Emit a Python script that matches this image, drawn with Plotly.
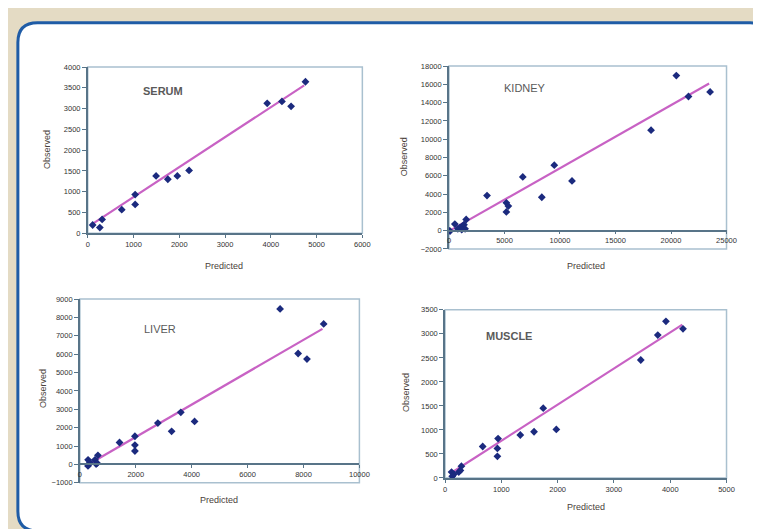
import plotly.graph_objects as go

W, H = 761, 529

# ---------------- data ----------------
serum_pred = [107, 264, 314, 743, 1036, 1036, 1493, 1750, 1957, 2214, 3921, 4243, 4443, 4757]
serum_obs = [197, 134, 331, 567, 929, 693, 1378, 1299, 1378, 1512, 3126, 3173, 3055, 3646]
serum_trend_x = [121, 4729]
serum_trend_y = [236, 3559]

kidney_pred = [0, 100, 530, 800, 1000, 1200, 1350, 1450, 1550, 1150, 3428, 5171, 5171, 5348,
               6649, 8363, 9486, 11082, 18203, 20479, 21572, 23522]
kidney_obs = [0, -50, 716, 200, 350, 500, 650, 200, 1216, 100, 3828, 2039, 3041, 2683,
              5868, 3649, 7156, 5438, 10984, 16959, 14669, 15170]
kidney_trend_x = [0, 23434]
kidney_trend_y = [-60, 16100]

liver_pred = [293, 328, 360, 290, 539, 580, 645, 620, 1418, 1969, 1969, 1969, 2790, 3282,
              3611, 4103, 7163, 7808, 8124, 8722]
liver_obs = [250, 18, 110, -80, 250, 20, 500, 70, 1196, 1536, 1054, 732, 2250, 1804,
             2839, 2339, 8464, 6036, 5732, 7643]
liver_trend_x = [300, 8680]
liver_trend_y = [0, 7375]

muscle_pred = [116, 128, 157, 244, 273, 291, 669, 942, 930, 930, 1337, 1581, 1744, 1977,
               3477, 3779, 3924, 4227]
muscle_obs = [123, 34, 75, 123, 157, 246, 655, 819, 614, 450, 894, 962, 1453, 1010,
              2456, 2975, 3261, 3104]
muscle_trend_x = [116, 4215]
muscle_trend_y = [109, 3193]

titles = ["SERUM", "KIDNEY", "LIVER", "MUSCLE"]
x_label = "Predicted"
y_label = "Observed"

# ---------------- styling ----------------
MARKER = "#1b2a7e"
TREND = "#c862c4"
AXIS = "#587488"
BORDER = "#a9c0cf"
TICK_FONT = dict(family="Liberation Sans, Arial, sans-serif", size=7.5, color="#333333")
TITLE_FONT_COLOR = "#4a3f3a"


def fx(px):
    return px / W


def fy(py):
    return 1 - py / H


panels = [
    dict(name="SERUM", xs=serum_pred, ys=serum_obs, tx=serum_trend_x, ty=serum_trend_y,
         xdom=(79, 358), ydom=(225, 56), xr=(0, 6000), xd=1000, yr=(0, 4000), yd=500,
         title=titles[0], tpos=(155, 80), tbold=True,
         xlab=(217, 258), ylab=(37, 140)),
    dict(name="KIDNEY", xs=kidney_pred, ys=kidney_obs, tx=kidney_trend_x, ty=kidney_trend_y,
         xdom=(446, 728), ydom=(241, 55), xr=(0, 25000), xd=5000, yr=(-2000, 18000), yd=2000,
         title=titles[1], tpos=(523, 77), tbold=False,
         xlab=(585, 258), ylab=(401, 147)),
    dict(name="LIVER", xs=liver_pred, ys=liver_obs, tx=liver_trend_x, ty=liver_trend_y,
         xdom=(71, 355), ydom=(479, 292), xr=(0, 10000), xd=2000, yr=(-1000, 9000), yd=1000,
         title=titles[2], tpos=(152, 322), tbold=False,
         xlab=(212, 496), ylab=(34, 383)),
    dict(name="MUSCLE", xs=muscle_pred, ys=muscle_obs, tx=muscle_trend_x, ty=muscle_trend_y,
         xdom=(442, 728), ydom=(474, 303), xr=(0, 5000), xd=1000, yr=(0, 3500), yd=500,
         title=titles[3], tpos=(507, 330), tbold=True,
         xlab=(585, 504), ylab=(403, 387)),
]

fig = go.Figure()
layout = dict(
    width=W, height=H, autosize=False,
    margin=dict(l=0, r=0, t=0, b=0),
    paper_bgcolor="#e4dbc4",
    plot_bgcolor="rgba(0,0,0,0)",
    showlegend=False,
)
shapes = []
annotations = []

# white rounded frame with blue border
L, T, R, B, r = 8, 11, 772, 528, 20
rx, ry = r / W, r / H
x0, x1, y0, y1 = fx(L), fx(R), fy(B), fy(T)
path = (f"M {x0+rx},{y1} L {x1-rx},{y1} Q {x1},{y1} {x1},{y1-ry} "
        f"L {x1},{y0+ry} Q {x1},{y0} {x1-rx},{y0} L {x0+rx},{y0} "
        f"Q {x0},{y0} {x0},{y0+ry} L {x0},{y1-ry} Q {x0},{y1} {x0+rx},{y1} Z")
shapes.append(dict(type="path", xref="paper", yref="paper", path=path,
                   fillcolor="white", line=dict(color="#1f5ca6", width=3), layer="below"))

for i, p in enumerate(panels, start=1):
    xa = "x" if i == 1 else f"x{i}"
    ya = "y" if i == 1 else f"y{i}"
    xkey = "xaxis" if i == 1 else f"xaxis{i}"
    ykey = "yaxis" if i == 1 else f"yaxis{i}"

    fig.add_trace(go.Scatter(x=p["tx"], y=p["ty"], mode="lines", xaxis=xa, yaxis=ya,
                             line=dict(color=TREND, width=2.2), hoverinfo="skip"))
    fig.add_trace(go.Scatter(x=p["xs"], y=p["ys"], mode="markers", xaxis=xa, yaxis=ya,
                             marker=dict(symbol="diamond", size=6, color=MARKER)))

    ydom = (fy(p["ydom"][0]), fy(p["ydom"][1]))
    xdom = (fx(p["xdom"][0]), fx(p["xdom"][1]))
    ymin, ymax = p["yr"]
    zero_pos = ydom[0] + (0 - ymin) / (ymax - ymin) * (ydom[1] - ydom[0])

    xaxis = dict(domain=xdom, range=list(p["xr"]), dtick=p["xd"], tick0=0, tickformat="d",
                 showgrid=False, zeroline=False, showline=True, linecolor=AXIS, linewidth=1.5,
                 ticks="outside", ticklen=3, tickcolor=AXIS, tickwidth=1.2,
                 tickfont=TICK_FONT, fixedrange=True)
    if ymin < 0:
        xaxis.update(anchor="free", position=zero_pos)
    else:
        xaxis.update(anchor=ya)
    yaxis = dict(domain=ydom, range=list(p["yr"]), dtick=p["yd"], tick0=0, tickformat="d",
                 anchor=xa, showgrid=False, zeroline=False, showline=True,
                 linecolor=AXIS, linewidth=1.5, ticks="outside", ticklen=4,
                 tickcolor=AXIS, tickwidth=1.2, tickfont=TICK_FONT, fixedrange=True)
    layout[xkey] = xaxis
    layout[ykey] = yaxis

    # plot-area border
    shapes.append(dict(type="rect", xref=f"{xa} domain", yref=f"{ya} domain",
                       x0=0, x1=1, y0=0, y1=1, line=dict(color=BORDER, width=1.5),
                       fillcolor="rgba(0,0,0,0)", layer="below"))

    # panel title
    annotations.append(dict(
        text=f"<b>{p['title']}</b>" if p["tbold"] else p["title"],
        x=fx(p["tpos"][0]), y=fy(p["tpos"][1]), xref="paper", yref="paper",
        showarrow=False, xanchor="center", yanchor="middle",
        font=dict(family="Liberation Sans, Arial, sans-serif", size=11, color="#5a5a5a")))
    # axis titles
    annotations.append(dict(
        text=x_label, x=fx(p["xlab"][0]), y=fy(p["xlab"][1]), xref="paper", yref="paper",
        showarrow=False, xanchor="center", yanchor="middle",
        font=dict(family="Liberation Sans, Arial, sans-serif", size=9, color=TITLE_FONT_COLOR)))
    annotations.append(dict(
        text=y_label, x=fx(p["ylab"][0]), y=fy(p["ylab"][1]), xref="paper", yref="paper",
        showarrow=False, xanchor="center", yanchor="middle", textangle=-90,
        font=dict(family="Liberation Sans, Arial, sans-serif", size=9, color=TITLE_FONT_COLOR)))

layout["shapes"] = shapes
layout["annotations"] = annotations
fig.update_layout(**layout)
fig.write_html("out.html")
